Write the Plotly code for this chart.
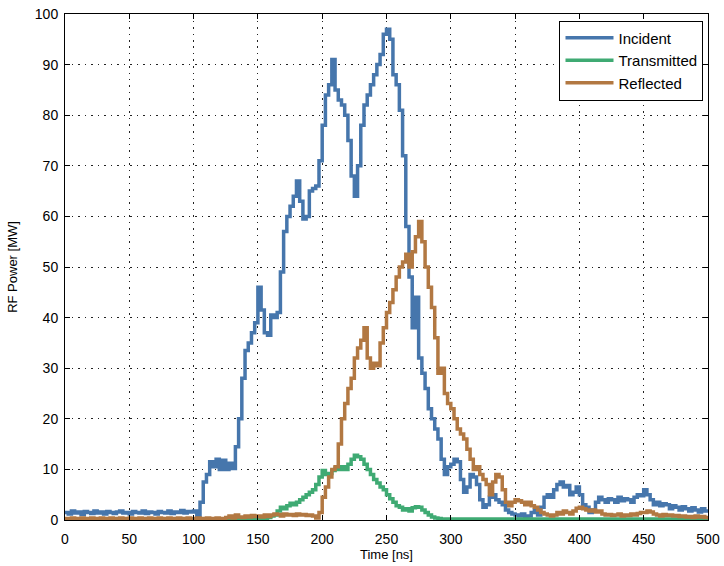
import numpy as np
import plotly.graph_objects as go

# time axis, 2.5 ns step
time_ns = [i * 2.5 for i in range(201)]

incident = [
    1.5, 1.2, 1.8, 1.4, 1.6, 1.1, 1.7, 1.5, 1.3, 1.8,
    1.4, 1.6, 1.2, 1.7, 1.5, 1.3, 1.6, 1.8, 1.4, 1.5,
    1.2, 1.7, 1.5, 1.4, 1.8, 1.3, 1.6, 1.5, 1.2, 1.7,
    1.5, 1.4, 1.8, 1.3, 1.6, 1.5, 1.9, 1.4, 1.7, 1.6,
    1.8, 0.8, 3.5, 7.5, 9.0, 11.5, 10.5, 12.0, 10.0, 11.8,
    10.0, 11.2, 10.2, 14.5, 20.0, 28.0, 33.5, 35.0, 37.0, 39.0,
    46.0, 41.5, 37.0, 36.5, 40.5, 40.0, 41.0, 49.0, 57.0, 60.0,
    62.0, 64.0, 67.0, 63.0, 59.5, 60.0, 65.0, 65.5, 66.0, 71.0,
    78.0, 84.0, 86.0, 91.0, 85.0, 83.0, 82.0, 80.0, 75.0, 68.0,
    64.0, 70.0, 78.0, 82.0, 84.0, 86.0, 88.0, 90.0, 92.0, 96.0,
    97.0, 95.0, 88.0, 86.0, 81.0, 72.0, 58.0, 48.0, 38.0, 44.0,
    32.0, 29.0, 26.0, 22.0, 20.0, 18.0, 16.0, 12.0, 9.0, 10.5,
    11.0, 12.0, 11.5, 8.0, 5.5, 6.5, 9.0, 8.5, 7.0, 4.0,
    2.5, 3.0, 4.5, 5.0, 4.0, 3.5, 3.0, 2.0, 1.5, 1.2,
    1.0, 0.8, 1.2, 0.6, 0.8, 1.5, 2.0, 1.0, 2.5, 4.5,
    5.0, 4.5, 6.0, 7.0, 7.5, 6.5, 6.8, 5.0, 5.5, 6.5,
    5.0, 3.0, 2.5, 1.5, 2.0, 3.5, 4.5, 4.0, 3.5, 4.2,
    4.0, 3.5, 4.5, 3.8, 4.2, 4.0, 3.5, 4.5, 5.0, 4.8,
    6.0, 5.0, 4.0, 3.0, 3.5, 2.8, 3.2, 3.0, 2.2, 2.8,
    2.5, 2.0, 2.6, 2.2, 1.8, 2.4, 2.0, 1.6, 2.2, 1.8,
    1.5,
]

transmitted = [
    0.1, 0.2, 0.1, 0.1, 0.2, 0.1, 0.2, 0.1, 0.1, 0.2,
    0.1, 0.2, 0.1, 0.1, 0.2, 0.1, 0.2, 0.1, 0.1, 0.2,
    0.1, 0.2, 0.1, 0.1, 0.2, 0.1, 0.2, 0.1, 0.1, 0.2,
    0.1, 0.2, 0.1, 0.1, 0.2, 0.1, 0.2, 0.1, 0.1, 0.2,
    0.1, 0.2, 0.1, 0.1, 0.2, 0.1, 0.2, 0.1, 0.1, 0.2,
    0.1, 0.2, 0.1, 0.1, 0.2, 0.1, 0.2, 0.1, 0.1, 0.2,
    0.2, 0.3, 0.2, 0.5, 0.8, 1.0, 1.8, 2.5, 2.2, 2.8,
    3.3, 3.0, 3.5, 4.0, 4.5, 5.0, 5.5, 6.0, 7.0, 8.5,
    9.8, 9.0, 9.2, 9.8, 10.3, 10.0, 10.5, 10.0, 11.0, 12.0,
    12.8, 12.5, 12.0, 11.0, 10.0, 9.0, 8.0, 7.3, 6.5, 6.0,
    5.0, 4.2, 3.5, 2.8, 2.5, 2.0, 2.2, 1.8, 2.4, 2.6,
    2.5, 2.0, 1.5, 1.0, 0.6, 0.4, 0.3, 0.2, 0.2, 0.2,
    0.2, 0.2, 0.2, 0.2, 0.2, 0.2, 0.2, 0.2, 0.2, 0.2,
    0.2, 0.2, 0.2, 0.2, 0.2, 0.2, 0.2, 0.2, 0.2, 0.2,
    0.2, 0.2, 0.2, 0.2, 0.2, 0.2, 0.2, 0.2, 0.2, 0.2,
    0.2, 0.2, 0.2, 0.2, 0.2, 0.2, 0.2, 0.2, 0.2, 0.2,
    0.2, 0.2, 0.2, 0.2, 0.2, 0.2, 0.2, 0.2, 0.2, 0.2,
    0.2, 0.2, 0.2, 0.2, 0.2, 0.2, 0.2, 0.2, 0.2, 0.2,
    0.2, 0.2, 0.2, 0.2, 0.2, 0.2, 0.2, 0.2, 0.2, 0.2,
    0.2, 0.2, 0.2, 0.2, 0.2, 0.2, 0.2, 0.2, 0.2, 0.2,
    0.2,
]

reflected = [
    0.3, 0.3, 0.4, 0.3, 0.3, 0.4, 0.3, 0.3, 0.4, 0.3,
    0.3, 0.4, 0.3, 0.3, 0.4, 0.3, 0.3, 0.4, 0.3, 0.3,
    0.4, 0.3, 0.3, 0.4, 0.3, 0.3, 0.4, 0.3, 0.3, 0.4,
    0.3, 0.3, 0.4, 0.3, 0.3, 0.4, 0.3, 0.3, 0.4, 0.3,
    0.3, 0.4, 0.3, 0.3, 0.4, 0.3, 0.3, 0.4, 0.3, 0.3,
    0.5, 0.8, 0.4, 1.0, 0.6, 0.5, 0.8, 0.6, 0.9, 0.7,
    0.8, 0.6, 1.0, 0.7, 1.0, 1.2, 1.1, 0.8, 1.2, 1.0,
    1.1, 0.9, 1.2, 1.0, 1.1, 0.9, 1.0, 0.8, 0.4, 1.5,
    4.5, 6.5, 8.5, 10.0, 10.5, 15.0, 20.0, 23.0, 26.0, 28.0,
    32.0, 34.0, 35.5, 38.0, 32.0, 30.0, 31.0, 30.5, 35.0, 38.0,
    41.0, 43.0, 45.5, 48.0, 50.0, 51.0, 52.5, 50.0, 53.0, 56.0,
    59.0, 55.0, 50.0, 46.0, 42.0, 36.0, 29.0, 30.0, 25.0, 23.0,
    22.0, 20.0, 18.0, 17.0, 16.0, 14.0, 12.0, 10.0, 10.5, 9.0,
    8.0, 7.0, 5.0, 7.5, 9.0, 8.5, 6.0, 3.5, 2.8, 3.5,
    4.0, 3.8, 3.5, 3.0, 3.5, 2.8, 2.5, 2.0, 1.5, 1.2,
    1.0, 0.8, 1.0, 1.5, 1.2, 1.8, 1.5, 1.2, 1.8, 2.3,
    2.5, 2.2, 2.0, 1.8, 2.0, 1.6, 1.8, 1.2, 1.0, 1.1,
    0.9, 1.0, 1.2, 0.8, 1.0, 0.9, 1.2, 1.0, 1.3, 1.5,
    1.5, 1.8, 1.6, 1.2, 1.0, 0.8, 1.1, 0.9, 1.0, 0.8,
    0.9, 0.7, 0.8, 0.6, 0.7, 0.5, 0.8, 0.6, 0.7, 0.5,
    0.5,
]

x_ticks = [0, 50, 100, 150, 200, 250, 300, 350, 400, 450, 500]
y_ticks = [0, 10, 20, 30, 40, 50, 60, 70, 80, 90, 100]

FONT = "Liberation Sans, Arial, sans-serif"

fig = go.Figure()
series = [
    ("Incident", incident, "#4676AC"),
    ("Transmitted", transmitted, "#3FAA73"),
    ("Reflected", reflected, "#B27842"),
]
for name, vals, col in series:
    fig.add_trace(go.Scatter(
        x=time_ns, y=vals, name=name, mode="lines",
        line=dict(color=col, width=3.5, shape="hv"),
    ))

axis_common = dict(
    showline=True, linecolor="black", linewidth=1, mirror="allticks",
    ticks="inside", ticklen=5, tickcolor="black",
    showgrid=True, gridcolor="#222222", gridwidth=1, griddash="1.5px,5px",
    zeroline=False, tickfont=dict(family=FONT, size=14, color="black"),
    automargin=False,
)

fig.update_layout(
    width=724, height=566,
    margin=dict(l=65, r=16, t=14, b=46),
    paper_bgcolor="white", plot_bgcolor="white",
    font=dict(family=FONT, size=13, color="black"),
    xaxis=dict(range=[0, 500], tickvals=x_ticks, ticklabelstandoff=6,
               title=dict(text="Time [ns]", font=dict(size=13), standoff=4),
               **axis_common),
    yaxis=dict(range=[0, 100], tickvals=y_ticks, ticklabelstandoff=3,
               title=dict(text="RF Power [MW]", font=dict(size=13), standoff=14),
               **axis_common),
    legend=dict(x=0.993, y=0.987, xanchor="right", yanchor="top",
                bgcolor="white", bordercolor="black", borderwidth=1,
                font=dict(family=FONT, size=15, color="black"),
                itemwidth=48, tracegroupgap=0),
    showlegend=True,
)

fig.write_html("out.html")
